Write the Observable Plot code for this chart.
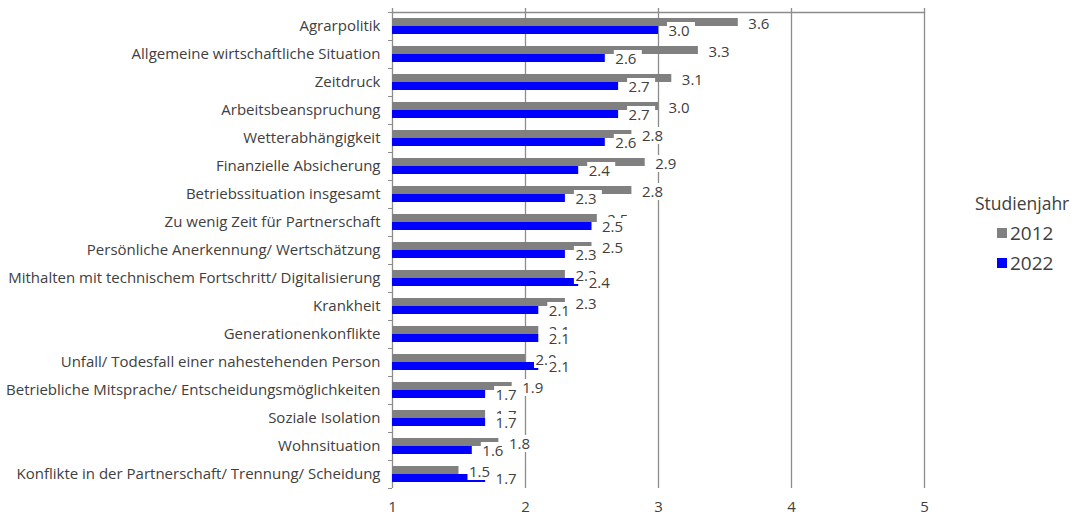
<!DOCTYPE html>
<html>
<head>
<meta charset="utf-8">
<script src="https://cdn.jsdelivr.net/npm/d3@7"></script>
<script src="https://cdn.jsdelivr.net/npm/@observablehq/plot@0.6"></script>
<style>
  html, body { margin: 0; padding: 0; background: #fff; }
  #wrap { position: relative; width: 1074px; height: 517px; font-family: "Open Sans", sans-serif; color: #404040; }
  #legend { position: absolute; left: 975px; top: 188px; font-size: 17.5px; line-height: 30px; }
  #legend .item { padding-left: 22px; position: relative; }
  #legend .sw { position: absolute; left: 22px; top: 10px; width: 10px; height: 10px; }
  #legend .item span.t { margin-left: 13px; font-size: 19px; }
</style>
</head>
<body>
<div id="wrap"></div>
<script>
const categories = [
  "Agrarpolitik",
  "Allgemeine wirtschaftliche Situation",
  "Zeitdruck",
  "Arbeitsbeanspruchung",
  "Wetterabhängigkeit",
  "Finanzielle Absicherung",
  "Betriebssituation insgesamt",
  "Zu wenig Zeit für Partnerschaft",
  "Persönliche Anerkennung/ Wertschätzung",
  "Mithalten mit technischem Fortschritt/ Digitalisierung",
  "Krankheit",
  "Generationenkonflikte",
  "Unfall/ Todesfall einer nahestehenden Person",
  "Betriebliche Mitsprache/ Entscheidungsmöglichkeiten",
  "Soziale Isolation",
  "Wohnsituation",
  "Konflikte in der Partnerschaft/ Trennung/ Scheidung"
];
const values2012 = [3.6, 3.3, 3.1, 3.0, 2.8, 2.9, 2.8, 2.54, 2.5, 2.3, 2.3, 2.1, 2.0, 1.9, 1.7, 1.8, 1.5];
const values2022 = [3.0, 2.6, 2.7, 2.7, 2.6, 2.4, 2.3, 2.5, 2.3, 2.4, 2.1, 2.1, 2.1, 1.7, 1.7, 1.6, 1.7];
const years = ["2012", "2022"];
const colors = ["#808080", "#0000ff"];
const xTicks = [1, 2, 3, 4, 5];
const gridTicks = [2, 3, 4, 5];
const legendTitle = "Studienjahr";

const d12 = categories.map((c, i) => ({cat: c, value: values2012[i], year: years[0]}));
const d22 = categories.map((c, i) => ({cat: c, value: values2022[i], year: years[1]}));
const fmt = d => d.value.toFixed(1);

const chart = Plot.plot({
  width: 1074,
  height: 517,
  marginLeft: 392,
  marginRight: 150,
  marginTop: 12,
  marginBottom: 29,
  style: {fontFamily: "Open Sans", fontSize: "15px", color: "#404040", background: "#fff"},
  x: {domain: [1, 5], axis: null, label: null},
  y: {domain: categories, padding: 0, axis: null, label: null},
  marks: [
    Plot.ruleX(gridTicks, {stroke: "#8c8c8c", strokeWidth: 1.3, insetTop: -4}),
    Plot.frame({anchor: "top", stroke: "#8c8c8c", strokeWidth: 1.3}),
    Plot.ruleX([1], {stroke: "#8c8c8c", strokeWidth: 1.3, insetTop: -4}),
    Plot.axisY({tickSize: 4, text: null, dy: -14, stroke: "#8c8c8c", label: null}),
    Plot.axisY({ticks: [categories[categories.length - 1]], tickSize: 4, text: null, dy: 14, stroke: "#8c8c8c", label: null}),
    Plot.axisY({tickSize: 0, tickPadding: 12, fontSize: 15, fill: "#404040", label: null}),
    Plot.axisX({ticks: xTicks, tickSize: 0, tickPadding: 13, tickFormat: d => String(d), fontSize: 15, fill: "#404040", label: null}),
    Plot.barX(d12, {x1: 1, x2: "value", y: "cat", fill: colors[0], insetTop: 6, insetBottom: 14}),
    Plot.barX(d22, {x1: 1, x2: "value", y: "cat", fill: colors[1], insetTop: 14, insetBottom: 6}),
    Plot.barX(d12, {x1: "value", x2: "value", y: "cat", fill: "#fff", insetLeft: 9, insetRight: -37, insetTop: 3, insetBottom: 8}),
    Plot.text(d12, {x: "value", y: "cat", text: fmt, textAnchor: "start", dx: 10, dy: -2.5, fill: "#404040", fontSize: 15}),
    Plot.barX(d22, {x1: "value", x2: "value", y: "cat", fill: "#fff", insetLeft: 9, insetRight: -37, insetTop: 10, insetBottom: 1}),
    Plot.text(d22, {x: "value", y: "cat", text: fmt, textAnchor: "start", dx: 10, dy: 4.5, fill: "#404040", fontSize: 15})
  ]
});

const wrap = document.getElementById("wrap");
wrap.appendChild(chart);
const legend = document.createElement("div");
legend.id = "legend";
const title = document.createElement("div");
title.textContent = legendTitle;
legend.appendChild(title);
years.forEach((y, i) => {
  const item = document.createElement("div");
  item.className = "item";
  const sw = document.createElement("span");
  sw.className = "sw";
  sw.style.background = colors[i];
  const t = document.createElement("span");
  t.className = "t";
  t.textContent = y;
  item.appendChild(sw);
  item.appendChild(t);
  legend.appendChild(item);
});
wrap.appendChild(legend);
</script>
</body>
</html>
